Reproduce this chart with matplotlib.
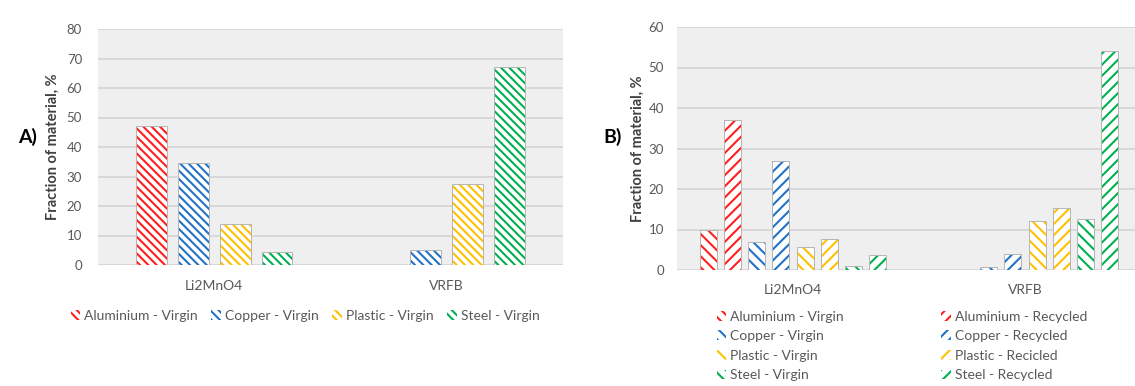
import numpy as np
import matplotlib
matplotlib.use("Agg")
import matplotlib.pyplot as plt

# Data
categories = ["Li2MnO4", "VRFB"]

# Panel A - virgin material only
a_labels = ["Aluminium - Virgin", "Copper - Virgin", "Plastic - Virgin", "Steel - Virgin"]
a_aluminium = [47, 0]
a_copper = [34.5, 5]
a_plastic = [14, 27.5]
a_steel = [4.5, 67]

# Panel B - virgin and recycled
b_labels = ["Aluminium - Virgin", "Aluminium - Recycled",
            "Copper - Virgin", "Copper - Recycled",
            "Plastic - Virgin", "Plastic - Recicled",
            "Steel - Virgin", "Steel - Recycled"]
b_al_virgin = [9.8, 0]
b_al_recycled = [37, 0]
b_cu_virgin = [7, 0.8]
b_cu_recycled = [27, 4]
b_pl_virgin = [5.8, 12.2]
b_pl_recycled = [7.6, 15.2]
b_st_virgin = [0.9, 12.5]
b_st_recycled = [3.7, 54.1]

RED, BLUE, YELLOW, GREEN = "#FF1F1F", "#2272C6", "#FFC000", "#00B050"
TXT = "#595959"

plt.rcParams["font.family"] = ["Lato", "DejaVu Sans"]
plt.rcParams["hatch.linewidth"] = 1.5

fig = plt.figure(figsize=(11.35, 3.86), dpi=100)
fig.patch.set_facecolor("white")


def style_axes(ax, ymax, tick_pad):
    ax.set_facecolor("#efefef")
    ax.set_xlim(-0.5, 1.5)
    ax.set_ylim(0, ymax)
    ax.set_yticks(np.arange(0, ymax + 1, 10))
    ax.yaxis.grid(True, color="#d6d6d6", lw=1.3)
    ax.set_axisbelow(True)
    for s in ax.spines.values():
        s.set_visible(False)
    ax.tick_params(axis="y", length=0, pad=tick_pad, labelsize=9.5, labelcolor=TXT)
    ax.tick_params(axis="x", length=0, labelsize=10, labelcolor=TXT)
    ax.set_xticks(range(len(categories)))
    ax.set_xticklabels(categories)
    ax.set_ylabel("Fraction of material, %", fontsize=10.5, fontweight="bold", color="#404040")


def hatched_bars(ax, x, vals, width, color, hatch, label):
    vals = np.array(vals, dtype=float)
    b = ax.bar(x, vals, width, color="white", edgecolor=color, hatch=hatch, lw=0, label=label)
    ax.bar(x, np.where(vals > 0, vals, np.nan), width, fill=False, edgecolor="#b5b5b5", lw=0.7)
    return b


x = np.arange(len(categories))

# ---- Panel A ----
axA = fig.add_axes([98 / 1135, 1 - 265 / 386, 465 / 1135, 236 / 386])
style_axes(axA, 80, 11.5)
axA.tick_params(axis="x", pad=11)
axA.yaxis.set_label_coords(-0.082, 0.5)
a_series = [a_aluminium, a_copper, a_plastic, a_steel]
a_colors = [RED, BLUE, YELLOW, GREEN]
handles_a = []
for i, (vals, c, lab) in enumerate(zip(a_series, a_colors, a_labels)):
    handles_a.append(hatched_bars(axA, x + (i - 1.5) * 0.18, vals, 0.133, c, "\\" * 4, lab))

fig.legend(handles=handles_a, labels=a_labels, loc="center", ncol=4,
           bbox_to_anchor=(305 / 1135, 1 - 316 / 386), frameon=False,
           fontsize=10, labelcolor=TXT, handlelength=0.7, handleheight=0.7,
           handletextpad=0.3, columnspacing=0.95)
fig.text(28 / 1135, 1 - 137 / 386, "A)", fontsize=14, fontweight="bold", ha="center", va="center")

# ---- Panel B ----
axB = fig.add_axes([677 / 1135, 1 - 270 / 386, 464 / 1135, 243 / 386])
style_axes(axB, 60, 9.5)
axB.tick_params(axis="x", pad=10)
axB.yaxis.set_label_coords(-0.069, 0.5)
b_series = [b_al_virgin, b_al_recycled, b_cu_virgin, b_cu_recycled,
            b_pl_virgin, b_pl_recycled, b_st_virgin, b_st_recycled]
b_colors = [RED, RED, BLUE, BLUE, YELLOW, YELLOW, GREEN, GREEN]
handles_b = []
for i, (vals, c, lab) in enumerate(zip(b_series, b_colors, b_labels)):
    h = "\\" * 3 if i % 2 == 0 else "/" * 3
    handles_b.append(hatched_bars(axB, x + (i - 3.5) * 0.104, vals, 0.073, c, h, lab))

order = [0, 2, 4, 6, 1, 3, 5, 7]
fig.legend(handles=[handles_b[k] for k in order], labels=[b_labels[k] for k in order],
           loc="center", ncol=2, bbox_to_anchor=(902 / 1135, 1 - 346 / 386),
           frameon=False, fontsize=10, labelcolor=TXT, handlelength=0.7,
           handleheight=0.7, handletextpad=0.3, columnspacing=7.0, labelspacing=0.55)
fig.text(613 / 1135, 1 - 137 / 386, "B)", fontsize=14, fontweight="bold", ha="center", va="center")

fig.savefig("out.png", dpi=100, facecolor="white")
